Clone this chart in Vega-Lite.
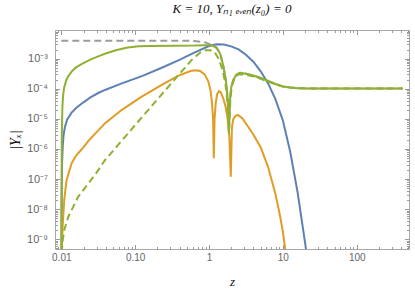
{
  "$schema": "https://vega.github.io/schema/vega-lite/v6.json",
  "autosize": "none",
  "width": 354,
  "height": 219,
  "padding": {"left": 55, "top": 30, "right": 6, "bottom": 45},
  "background": "white",
  "view": {"stroke": "#a8a8a8", "strokeWidth": 1},
  "title": {
    "text": "K = 10, Yₙ₁ ₑᵥₑₙ(z₀) = 0",
    "font": "Liberation Serif",
    "fontStyle": "italic",
    "fontWeight": "normal",
    "fontSize": 13,
    "color": "#111111",
    "anchor": "middle",
    "offset": 10
  },
  "config": {
    "axis": {
      "grid": false,
      "domain": false,
      "tickColor": "#9a9a9a",
      "labelColor": "#666666",
      "labelFont": "Liberation Sans",
      "labelFontSize": 10,
      "labelOverlap": false,
      "labelFlush": false,
      "titleFont": "Liberation Serif",
      "titleFontStyle": "italic",
      "titleFontWeight": "normal",
      "titleFontSize": 13,
      "titleColor": "#111111"
    }
  },
  "datasets": {
    "curves": [
      {"s": "blue", "z": 0.01, "Y": 1e-12},
      {"s": "blue", "z": 0.010116, "Y": 3.16e-8},
      {"s": "blue", "z": 0.01023, "Y": 3.16e-7},
      {"s": "blue", "z": 0.01047, "Y": 1.26e-6},
      {"s": "blue", "z": 0.01072, "Y": 2.82e-6},
      {"s": "blue", "z": 0.01122, "Y": 5.5e-6},
      {"s": "blue", "z": 0.01202, "Y": 9.55e-6},
      {"s": "blue", "z": 0.0138, "Y": 1.62e-5},
      {"s": "blue", "z": 0.01585, "Y": 2.29e-5},
      {"s": "blue", "z": 0.01995, "Y": 3.55e-5},
      {"s": "blue", "z": 0.02512, "Y": 5.25e-5},
      {"s": "blue", "z": 0.03162, "Y": 7.24e-5},
      {"s": "blue", "z": 0.03981, "Y": 9.33e-5},
      {"s": "blue", "z": 0.06607, "Y": 1.51e-4},
      {"s": "blue", "z": 0.1259, "Y": 2.69e-4},
      {"s": "blue", "z": 0.2291, "Y": 5.01e-4},
      {"s": "blue", "z": 0.3981, "Y": 9.12e-4},
      {"s": "blue", "z": 0.631, "Y": 1.585e-3},
      {"s": "blue", "z": 1.0, "Y": 2.63e-3},
      {"s": "blue", "z": 1.259, "Y": 3.02e-3},
      {"s": "blue", "z": 1.585, "Y": 2.95e-3},
      {"s": "blue", "z": 1.995, "Y": 2.57e-3},
      {"s": "blue", "z": 2.512, "Y": 2.04e-3},
      {"s": "blue", "z": 3.162, "Y": 1.35e-3},
      {"s": "blue", "z": 3.981, "Y": 7.94e-4},
      {"s": "blue", "z": 5.012, "Y": 3.8e-4},
      {"s": "blue", "z": 6.31, "Y": 1.51e-4},
      {"s": "blue", "z": 7.943, "Y": 4.47e-5},
      {"s": "blue", "z": 10.0, "Y": 8.9e-6},
      {"s": "blue", "z": 12.59, "Y": 7.94e-7},
      {"s": "blue", "z": 15.85, "Y": 3.55e-8},
      {"s": "blue", "z": 19.95, "Y": 7.94e-10},
      {"s": "blue", "z": 22.39, "Y": 1e-10},

      {"s": "orange", "z": 0.01, "Y": 1e-12},
      {"s": "orange", "z": 0.01023, "Y": 7.94e-10},
      {"s": "orange", "z": 0.01047, "Y": 3.16e-9},
      {"s": "orange", "z": 0.01096, "Y": 2.0e-8},
      {"s": "orange", "z": 0.01175, "Y": 8.91e-8},
      {"s": "orange", "z": 0.0138, "Y": 3.39e-7},
      {"s": "orange", "z": 0.01585, "Y": 6.03e-7},
      {"s": "orange", "z": 0.01905, "Y": 1.0e-6},
      {"s": "orange", "z": 0.02344, "Y": 1.905e-6},
      {"s": "orange", "z": 0.0389, "Y": 7.08e-6},
      {"s": "orange", "z": 0.06607, "Y": 2.0e-5},
      {"s": "orange", "z": 0.123, "Y": 5.5e-5},
      {"s": "orange", "z": 0.2291, "Y": 1.35e-4},
      {"s": "orange", "z": 0.3802, "Y": 2.69e-4},
      {"s": "orange", "z": 0.5623, "Y": 3.89e-4},
      {"s": "orange", "z": 0.6457, "Y": 4.12e-4},
      {"s": "orange", "z": 0.7586, "Y": 3.89e-4},
      {"s": "orange", "z": 0.871, "Y": 3.02e-4},
      {"s": "orange", "z": 0.9772, "Y": 1.78e-4},
      {"s": "orange", "z": 1.047, "Y": 8.91e-5},
      {"s": "orange", "z": 1.096, "Y": 3.55e-5},
      {"s": "orange", "z": 1.135, "Y": 1.0e-5},
      {"s": "orange", "z": 1.161, "Y": 4.9e-7},
      {"s": "orange", "z": 1.189, "Y": 1.0e-5},
      {"s": "orange", "z": 1.23, "Y": 3.16e-5},
      {"s": "orange", "z": 1.288, "Y": 6.6e-5},
      {"s": "orange", "z": 1.365, "Y": 8.3e-5},
      {"s": "orange", "z": 1.445, "Y": 7.59e-5},
      {"s": "orange", "z": 1.549, "Y": 5.01e-5},
      {"s": "orange", "z": 1.66, "Y": 2.82e-5},
      {"s": "orange", "z": 1.778, "Y": 1.12e-5},
      {"s": "orange", "z": 1.884, "Y": 2.51e-6},
      {"s": "orange", "z": 1.972, "Y": 1.2e-7},
      {"s": "orange", "z": 2.042, "Y": 5.01e-6},
      {"s": "orange", "z": 2.138, "Y": 1.0e-5},
      {"s": "orange", "z": 2.291, "Y": 1.26e-5},
      {"s": "orange", "z": 2.455, "Y": 1.35e-5},
      {"s": "orange", "z": 2.818, "Y": 1.05e-5},
      {"s": "orange", "z": 3.388, "Y": 5.5e-6},
      {"s": "orange", "z": 3.981, "Y": 3.02e-6},
      {"s": "orange", "z": 5.012, "Y": 1.12e-6},
      {"s": "orange", "z": 6.31, "Y": 2.51e-7},
      {"s": "orange", "z": 7.943, "Y": 3.16e-8},
      {"s": "orange", "z": 9.12, "Y": 6.31e-9},
      {"s": "orange", "z": 10.0, "Y": 1.78e-9},
      {"s": "orange", "z": 10.72, "Y": 5.01e-10},
      {"s": "orange", "z": 11.48, "Y": 1e-10},

      {"s": "green", "z": 0.01, "Y": 1e-12},
      {"s": "green", "z": 0.01005, "Y": 1e-9},
      {"s": "green", "z": 0.01016, "Y": 2.51e-6},
      {"s": "green", "z": 0.01035, "Y": 2.51e-5},
      {"s": "green", "z": 0.0106, "Y": 6.31e-5},
      {"s": "green", "z": 0.01096, "Y": 1.12e-4},
      {"s": "green", "z": 0.01175, "Y": 2.0e-4},
      {"s": "green", "z": 0.01259, "Y": 2.75e-4},
      {"s": "green", "z": 0.01413, "Y": 3.98e-4},
      {"s": "green", "z": 0.01585, "Y": 5.13e-4},
      {"s": "green", "z": 0.01905, "Y": 6.76e-4},
      {"s": "green", "z": 0.02512, "Y": 9.55e-4},
      {"s": "green", "z": 0.03162, "Y": 1.2e-3},
      {"s": "green", "z": 0.03981, "Y": 1.48e-3},
      {"s": "green", "z": 0.05623, "Y": 1.95e-3},
      {"s": "green", "z": 0.07943, "Y": 2.34e-3},
      {"s": "green", "z": 0.1122, "Y": 2.57e-3},
      {"s": "green", "z": 0.1585, "Y": 2.66e-3},
      {"s": "green", "z": 0.3162, "Y": 2.69e-3},
      {"s": "green", "z": 0.631, "Y": 2.72e-3},
      {"s": "green", "z": 0.8913, "Y": 2.79e-3},
      {"s": "green", "z": 1.072, "Y": 2.82e-3},
      {"s": "green", "z": 1.259, "Y": 2.34e-3},
      {"s": "green", "z": 1.413, "Y": 1.48e-3},
      {"s": "green", "z": 1.549, "Y": 6.31e-4},
      {"s": "green", "z": 1.66, "Y": 2.51e-4},
      {"s": "green", "z": 1.738, "Y": 1.12e-4},
      {"s": "green", "z": 1.799, "Y": 3.55e-5},
      {"s": "green", "z": 1.862, "Y": 3.98e-6},
      {"s": "green", "z": 1.928, "Y": 4.47e-5},
      {"s": "green", "z": 1.995, "Y": 1.12e-4},
      {"s": "green", "z": 2.138, "Y": 2.0e-4},
      {"s": "green", "z": 2.344, "Y": 2.95e-4},
      {"s": "green", "z": 2.63, "Y": 3.39e-4},
      {"s": "green", "z": 3.162, "Y": 3.16e-4},
      {"s": "green", "z": 3.981, "Y": 2.75e-4},
      {"s": "green", "z": 5.012, "Y": 2.29e-4},
      {"s": "green", "z": 6.31, "Y": 1.82e-4},
      {"s": "green", "z": 7.943, "Y": 1.45e-4},
      {"s": "green", "z": 10.0, "Y": 1.2e-4},
      {"s": "green", "z": 12.59, "Y": 1.1e-4},
      {"s": "green", "z": 15.85, "Y": 1.05e-4},
      {"s": "green", "z": 25.12, "Y": 1.02e-4},
      {"s": "green", "z": 416.9, "Y": 1.02e-4},

      {"s": "greenDashed", "z": 0.01, "Y": 1e-12},
      {"s": "greenDashed", "z": 0.010116, "Y": 2.51e-10},
      {"s": "greenDashed", "z": 0.01033, "Y": 7.41e-10},
      {"s": "greenDashed", "z": 0.01096, "Y": 2.04e-9},
      {"s": "greenDashed", "z": 0.01245, "Y": 5.62e-9},
      {"s": "greenDashed", "z": 0.01698, "Y": 2.63e-8},
      {"s": "greenDashed", "z": 0.02858, "Y": 1.38e-7},
      {"s": "greenDashed", "z": 0.03908, "Y": 4.27e-7},
      {"s": "greenDashed", "z": 0.1507, "Y": 2.0e-5},
      {"s": "greenDashed", "z": 0.5834, "Y": 9.12e-4},
      {"s": "greenDashed", "z": 0.7586, "Y": 1.585e-3},
      {"s": "greenDashed", "z": 0.8913, "Y": 1.905e-3},
      {"s": "greenDashed", "z": 1.047, "Y": 1.905e-3},
      {"s": "greenDashed", "z": 1.202, "Y": 1.585e-3},
      {"s": "greenDashed", "z": 1.349, "Y": 1.0e-3},
      {"s": "greenDashed", "z": 1.514, "Y": 4.47e-4},
      {"s": "greenDashed", "z": 1.66, "Y": 1.58e-4},
      {"s": "greenDashed", "z": 1.778, "Y": 3.98e-5},
      {"s": "greenDashed", "z": 1.862, "Y": 3.16e-6},
      {"s": "greenDashed", "z": 1.95, "Y": 5.01e-5},
      {"s": "greenDashed", "z": 2.042, "Y": 1.26e-4},
      {"s": "greenDashed", "z": 2.239, "Y": 2.4e-4},
      {"s": "greenDashed", "z": 2.512, "Y": 3.02e-4},
      {"s": "greenDashed", "z": 3.162, "Y": 2.95e-4},
      {"s": "greenDashed", "z": 3.981, "Y": 2.57e-4},
      {"s": "greenDashed", "z": 5.012, "Y": 2.14e-4},
      {"s": "greenDashed", "z": 6.31, "Y": 1.74e-4},
      {"s": "greenDashed", "z": 7.943, "Y": 1.41e-4},
      {"s": "greenDashed", "z": 10.0, "Y": 1.2e-4},
      {"s": "greenDashed", "z": 12.59, "Y": 1.1e-4},
      {"s": "greenDashed", "z": 15.85, "Y": 1.05e-4},
      {"s": "greenDashed", "z": 25.12, "Y": 1.02e-4},
      {"s": "greenDashed", "z": 416.9, "Y": 1.02e-4},

      {"s": "gray", "z": 0.01, "Y": 3.98e-3},
      {"s": "gray", "z": 0.3981, "Y": 3.98e-3},
      {"s": "gray", "z": 0.631, "Y": 3.89e-3},
      {"s": "gray", "z": 0.8913, "Y": 3.47e-3},
      {"s": "gray", "z": 1.072, "Y": 2.9e-3},
      {"s": "gray", "z": 1.259, "Y": 2.34e-3},
      {"s": "gray", "z": 1.413, "Y": 1.48e-3},
      {"s": "gray", "z": 1.549, "Y": 6.31e-4},
      {"s": "gray", "z": 1.66, "Y": 2.51e-4},
      {"s": "gray", "z": 1.738, "Y": 1.12e-4},
      {"s": "gray", "z": 1.799, "Y": 3.55e-5},
      {"s": "gray", "z": 1.862, "Y": 3.98e-6},
      {"s": "gray", "z": 1.928, "Y": 4.47e-5},
      {"s": "gray", "z": 1.995, "Y": 1.12e-4},
      {"s": "gray", "z": 2.138, "Y": 2.0e-4},
      {"s": "gray", "z": 2.344, "Y": 2.95e-4},
      {"s": "gray", "z": 2.63, "Y": 3.39e-4},
      {"s": "gray", "z": 3.162, "Y": 3.16e-4},
      {"s": "gray", "z": 3.981, "Y": 2.75e-4},
      {"s": "gray", "z": 5.012, "Y": 2.29e-4},
      {"s": "gray", "z": 6.31, "Y": 1.82e-4},
      {"s": "gray", "z": 7.943, "Y": 1.45e-4},
      {"s": "gray", "z": 10.0, "Y": 1.2e-4},
      {"s": "gray", "z": 12.59, "Y": 1.1e-4},
      {"s": "gray", "z": 15.85, "Y": 1.05e-4},
      {"s": "gray", "z": 25.12, "Y": 1.02e-4},
      {"s": "gray", "z": 416.9, "Y": 1.02e-4}
    ]
  },
  "data": {"name": "curves"},
  "resolve": {"axis": {"x": "independent", "y": "independent"}},
  "layer": [
    {
      "transform": [{"filter": "datum.s == 'gray'"}],
      "mark": {"type": "line", "clip": true, "color": "#9b9b9b", "strokeWidth": 2, "strokeDash": [7, 4]},
      "encoding": {
        "x": {
          "field": "z", "type": "quantitative",
          "scale": {"type": "log", "domain": [0.00822, 510], "nice": false},
          "axis": {
            "orient": "bottom",
            "title": "z",
            "titlePadding": 11,
            "values": [0.009, 0.01, 0.02, 0.03, 0.04, 0.05, 0.06, 0.07, 0.08, 0.09, 0.1, 0.2, 0.3, 0.4, 0.5, 0.6, 0.7, 0.8, 0.9, 1, 2, 3, 4, 5, 6, 7, 8, 9, 10, 20, 30, 40, 50, 60, 70, 80, 90, 100, 200, 300, 400, 500],
            "labelExpr": "datum.value == 0.01 ? '0.01' : datum.value == 0.1 ? '0.10' : datum.value == 1 ? '1' : datum.value == 10 ? '10' : datum.value == 100 ? '100' : ''",
            "tickSize": {"condition": {"test": "abs(log(datum.value)/LN10 - round(log(datum.value)/LN10)) < 0.001", "value": -4.5}, "value": -2.5},
            "labelPadding": 8
          }
        },
        "y": {
          "field": "Y", "type": "quantitative",
          "scale": {"type": "log", "domain": [4.76e-10, 8.98e-3], "nice": false},
          "axis": {
            "orient": "left",
            "title": "|Yₓ|",
            "titleFontSize": 14,
            "titlePadding": 4,
            "labelFontSize": 11,
            "values": [5e-10, 6e-10, 7e-10, 8e-10, 9e-10, 1e-9, 2e-9, 3e-9, 4e-9, 5e-9, 6e-9, 7e-9, 8e-9, 9e-9, 1e-8, 2e-8, 3e-8, 4e-8, 5e-8, 6e-8, 7e-8, 8e-8, 9e-8, 1e-7, 2e-7, 3e-7, 4e-7, 5e-7, 6e-7, 7e-7, 8e-7, 9e-7, 1e-6, 2e-6, 3e-6, 4e-6, 5e-6, 6e-6, 7e-6, 8e-6, 9e-6, 1e-5, 2e-5, 3e-5, 4e-5, 5e-5, 6e-5, 7e-5, 8e-5, 9e-5, 1e-4, 2e-4, 3e-4, 4e-4, 5e-4, 6e-4, 7e-4, 8e-4, 9e-4, 1e-3, 2e-3, 3e-3, 4e-3, 5e-3, 6e-3, 7e-3, 8e-3],
            "labelExpr": "abs(log(datum.value)/LN10 - round(log(datum.value)/LN10)) < 0.001 ? (round(log(datum.value)/LN10) == -3 ? '10⁻³' : round(log(datum.value)/LN10) == -4 ? '10⁻⁴' : round(log(datum.value)/LN10) == -5 ? '10⁻⁵' : round(log(datum.value)/LN10) == -6 ? '10⁻⁶' : round(log(datum.value)/LN10) == -7 ? '10⁻⁷' : round(log(datum.value)/LN10) == -8 ? '10⁻⁸' : '10⁻⁹') : ''",
            "tickSize": {"condition": {"test": "abs(log(datum.value)/LN10 - round(log(datum.value)/LN10)) < 0.001", "value": -4.5}, "value": -2.5},
            "labelPadding": 12
          }
        }
      }
    },
    {
      "transform": [{"filter": "datum.s == 'blue'"}],
      "mark": {"type": "line", "clip": true, "color": "#5E81B5", "strokeWidth": 2},
      "encoding": {
        "x": {
          "field": "z", "type": "quantitative",
          "scale": {"type": "log", "domain": [0.00822, 510], "nice": false},
          "axis": {
            "orient": "top",
            "title": null,
            "labels": false,
            "values": [0.009, 0.01, 0.02, 0.03, 0.04, 0.05, 0.06, 0.07, 0.08, 0.09, 0.1, 0.2, 0.3, 0.4, 0.5, 0.6, 0.7, 0.8, 0.9, 1, 2, 3, 4, 5, 6, 7, 8, 9, 10, 20, 30, 40, 50, 60, 70, 80, 90, 100, 200, 300, 400, 500],
            "tickSize": {"condition": {"test": "abs(log(datum.value)/LN10 - round(log(datum.value)/LN10)) < 0.001", "value": -4.5}, "value": -2.5}
          }
        },
        "y": {
          "field": "Y", "type": "quantitative",
          "scale": {"type": "log", "domain": [4.76e-10, 8.98e-3], "nice": false},
          "axis": {
            "orient": "right",
            "title": null,
            "labels": false,
            "values": [5e-10, 6e-10, 7e-10, 8e-10, 9e-10, 1e-9, 2e-9, 3e-9, 4e-9, 5e-9, 6e-9, 7e-9, 8e-9, 9e-9, 1e-8, 2e-8, 3e-8, 4e-8, 5e-8, 6e-8, 7e-8, 8e-8, 9e-8, 1e-7, 2e-7, 3e-7, 4e-7, 5e-7, 6e-7, 7e-7, 8e-7, 9e-7, 1e-6, 2e-6, 3e-6, 4e-6, 5e-6, 6e-6, 7e-6, 8e-6, 9e-6, 1e-5, 2e-5, 3e-5, 4e-5, 5e-5, 6e-5, 7e-5, 8e-5, 9e-5, 1e-4, 2e-4, 3e-4, 4e-4, 5e-4, 6e-4, 7e-4, 8e-4, 9e-4, 1e-3, 2e-3, 3e-3, 4e-3, 5e-3, 6e-3, 7e-3, 8e-3],
            "tickSize": {"condition": {"test": "abs(log(datum.value)/LN10 - round(log(datum.value)/LN10)) < 0.001", "value": -4.5}, "value": -2.5}
          }
        }
      }
    },
    {
      "transform": [{"filter": "datum.s == 'orange'"}],
      "mark": {"type": "line", "clip": true, "color": "#E19C24", "strokeWidth": 2},
      "encoding": {
        "x": {"field": "z", "type": "quantitative", "scale": {"type": "log", "domain": [0.00822, 510], "nice": false}, "axis": null},
        "y": {"field": "Y", "type": "quantitative", "scale": {"type": "log", "domain": [4.76e-10, 8.98e-3], "nice": false}, "axis": null}
      }
    },
    {
      "transform": [{"filter": "datum.s == 'green'"}],
      "mark": {"type": "line", "clip": true, "color": "#8FB032", "strokeWidth": 2},
      "encoding": {
        "x": {"field": "z", "type": "quantitative", "scale": {"type": "log", "domain": [0.00822, 510], "nice": false}, "axis": null},
        "y": {"field": "Y", "type": "quantitative", "scale": {"type": "log", "domain": [4.76e-10, 8.98e-3], "nice": false}, "axis": null}
      }
    },
    {
      "transform": [{"filter": "datum.s == 'greenDashed'"}],
      "mark": {"type": "line", "clip": true, "color": "#8FB032", "strokeWidth": 2, "strokeDash": [7, 4]},
      "encoding": {
        "x": {"field": "z", "type": "quantitative", "scale": {"type": "log", "domain": [0.00822, 510], "nice": false}, "axis": null},
        "y": {"field": "Y", "type": "quantitative", "scale": {"type": "log", "domain": [4.76e-10, 8.98e-3], "nice": false}, "axis": null}
      }
    }
  ]
}
